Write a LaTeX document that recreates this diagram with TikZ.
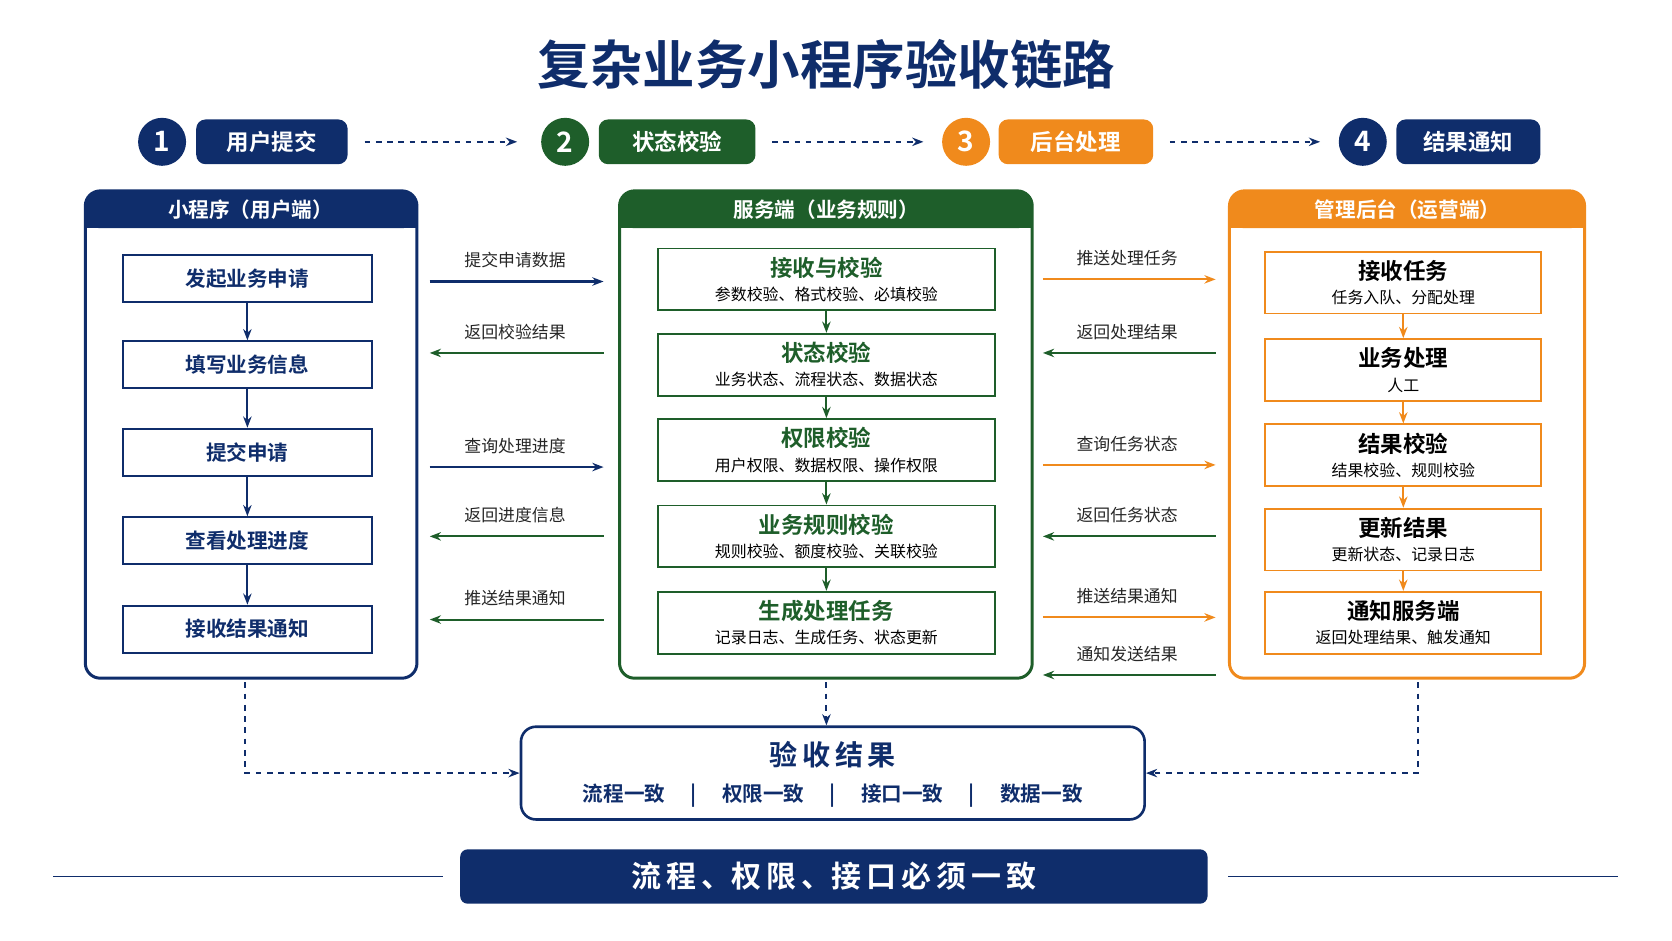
\documentclass[tikz,border=0pt]{standalone}
\usepackage{fontspec}
\setmainfont{Noto Sans CJK SC}[BoldFont={* Bold}]
\usetikzlibrary{positioning,arrows.meta}
\definecolor{navy}{HTML}{0F2D6B}
\definecolor{dgreen}{HTML}{1E5E2A}
\definecolor{orng}{HTML}{F08A1C}
\begin{document}
\begin{tikzpicture}[
    x=0.02cm,y=-0.02cm,
    stepnum/.style={circle,fill=#1,text=white,minimum size=0.9cm,inner sep=0pt,font=\bfseries\fontsize{15}{15}\selectfont},
    steptag/.style={rounded corners=5pt,fill=#1,text=white,minimum height=0.84cm,inner sep=0pt,font=\bfseries\fontsize{12}{12}\selectfont},
    panel/.style={draw=#1,line width=1.6pt,rounded corners=8pt},
    lbox/.style={draw=navy,line width=1pt,minimum width=4.66cm,minimum height=0.88cm,text=navy,font=\bfseries\fontsize{11}{11}\selectfont},
    mbox/.style 2 args={draw=#1,line width=1pt,minimum width=#2,minimum height=1.16cm,align=center},
    flow/.style={-{Stealth[length=6pt]},line width=1.1pt,draw=#1},
    dflow/.style={-{Stealth[length=6pt]},line width=1.1pt,dashed,draw=#1},
    alabel/.style={font=\fontsize{9}{9}\selectfont,text=black!85}
  ]
    \useasboundingbox (0,0) rectangle (1568,882);

    % Title
    \node[text=navy,font=\bfseries\fontsize{28}{28}\selectfont] (title) at (775,60) {复杂业务小程序验收链路};

    % Step row
    \node[stepnum=navy] (n1) at (152,133) {1};
    \node[steptag=navy,minimum width=2.84cm] (s1) at (255,133) {用户提交};
    \node[stepnum=dgreen] (n2) at (530,133) {2};
    \node[steptag=dgreen,minimum width=2.94cm] (s2) at (635,133) {状态校验};
    \node[stepnum=orng] (n3) at (906,133) {3};
    \node[steptag=orng,minimum width=2.9cm] (s3) at (1009,133) {后台处理};
    \node[stepnum=navy] (n4) at (1278,133) {4};
    \node[steptag=navy,minimum width=2.7cm] (s4) at (1377,133) {结果通知};
    \coordinate (a1) at (342,133); \coordinate (b1) at (485,133);
    \coordinate (a2) at (724,133); \coordinate (b2) at (866,133);
    \coordinate (a3) at (1097,133); \coordinate (b3) at (1238,133);
    \foreach \i in {1,2,3}
      \draw[dflow=navy] (a\i) -- (b\i);

    % Panels
    \fill[navy,rounded corners=8pt] (80,179) rectangle (391,214);
    \fill[navy] (80,200) rectangle (391,214);
    \draw[panel=navy] (80,179) rectangle (391,636);
    \node[text=white,font=\bfseries\fontsize{11}{11}\selectfont] (hl) at (235,197) {小程序（用户端）};
    \fill[dgreen,rounded corners=8pt] (581,179) rectangle (968,214);
    \fill[dgreen] (581,200) rectangle (968,214);
    \draw[panel=dgreen] (581,179) rectangle (968,636);
    \node[text=white,font=\bfseries\fontsize{11}{11}\selectfont] (hm) at (775,197) {服务端（业务规则）};
    \fill[orng,rounded corners=8pt] (1153,179) rectangle (1486,214);
    \fill[orng] (1153,200) rectangle (1486,214);
    \draw[panel=orng] (1153,179) rectangle (1486,636);
    \node[text=white,font=\bfseries\fontsize{11}{11}\selectfont] (hr) at (1320,197) {管理后台（运营端）};

    % Left steps
    \foreach \i/\y/\t in {1/261/发起业务申请,2/342/填写业务信息,3/424/提交申请,4/507/查看处理进度,5/590/接收结果通知}
      \node[lbox] (l\i) at (232,\y) {\t};
    \foreach \i/\j in {1/2,2/3,3/4,4/5}
      \draw[flow=navy] (l\i) -- (l\j);

    % Middle steps
    \foreach \i/\y/\t/\s in {1/262/接收与校验/参数校验、格式校验、必填校验,2/342/状态校验/业务状态、流程状态、数据状态,3/422/权限校验/用户权限、数据权限、操作权限,4/503/业务规则校验/规则校验、额度校验、关联校验,5/584/生成处理任务/记录日志、生成任务、状态更新}
      \node[mbox={dgreen}{6.32cm}] (m\i) at (775,\y)
        {{\color{dgreen}\bfseries\fontsize{12}{14}\selectfont \t}\\[1pt]{\fontsize{8.5}{10}\selectfont \s}};
    \foreach \i/\j in {1/2,2/3,3/4,4/5}
      \draw[flow=dgreen] (m\i) -- (m\j);

    % Right steps
    \foreach \i/\y/\t/\s in {1/265/接收任务/任务入队、分配处理,2/347/业务处理/人工/自动处理、数据处理,3/427/结果校验/结果校验、规则校验,4/506/更新结果/更新状态、记录日志,5/584/通知服务端/返回处理结果、触发通知}
      \node[mbox={orng}{5.18cm}] (r\i) at (1316,\y)
        {{\bfseries\fontsize{12}{14}\selectfont \t}\\[1pt]{\fontsize{8.5}{10}\selectfont \s}};
    \foreach \i/\j in {1/2,2/3,3/4,4/5}
      \draw[flow=orng] (r\i) -- (r\j);

    % Left <-> middle
    \foreach \y/\d/\c/\t [count=\k] in {264/r/navy/提交申请数据,331/l/dgreen/返回校验结果,438/r/navy/查询处理进度,503/l/dgreen/返回进度信息,581/l/dgreen/推送结果通知}{
      \coordinate (pl\k) at (403,\y);
      \coordinate (pr\k) at (566,\y);
      \if\d r \draw[flow=\c] (pl\k) -- (pr\k); \else \draw[flow=\c] (pr\k) -- (pl\k); \fi
      \node[alabel] (tl\k) at (483,\y-20) {\t};
    }
    % Middle <-> right
    \foreach \y/\d/\c/\t [count=\k] in {262/r/orng/推送处理任务,331/l/dgreen/返回处理结果,436/r/orng/查询任务状态,503/l/dgreen/返回任务状态,579/r/orng/推送结果通知,633/l/dgreen/通知发送结果}{
      \coordinate (ql\k) at (978,\y);
      \coordinate (qr\k) at (1140,\y);
      \if\d r \draw[flow=\c] (ql\k) -- (qr\k); \else \draw[flow=\c] (qr\k) -- (ql\k); \fi
      \node[alabel] (tr\k) at (1057,\y-20) {\t};
    }

    % Result box
    \node[draw=navy,line width=1.4pt,rounded corners=8pt,minimum width=11.7cm,minimum height=1.74cm] (res) at (781,725) {};
    \node[text=navy,font=\bfseries\fontsize{15}{15}\selectfont] (rest) at (781,708) {验\,收\,结\,果};
    \node[text=navy,font=\bfseries\fontsize{11}{11}\selectfont] (resi) at (781,746)
      {流程一致\quad\ |\ \quad 权限一致\quad\ |\ \quad 接口一致\quad\ |\ \quad 数据一致};
    \coordinate (dl) at (230,640);
    \coordinate (dr) at (1330,640);
    \coordinate (dm) at (775,640);
    \draw[dflow=navy] (dl) |- (res.west);
    \draw[dflow=navy] (dr) |- (res.east);
    \draw[dflow=navy] (dm) -- (res.north -| dm);

    % Banner
    \node[fill=navy,rounded corners=4pt,minimum width=14.02cm,minimum height=1.02cm,text=white,font=\bfseries\fontsize{16}{16}\selectfont] (ban) at (782,822) {流\,程\,、权\,限\,、接\,口\,必\,须\,一\,致};
    \draw[navy,line width=1pt] (50,822) -- (ban.west -| 415,0);
    \draw[navy,line width=1pt] (ban.east -| 1152,0) -- (1517,822);
  \end{tikzpicture}
\end{document}
